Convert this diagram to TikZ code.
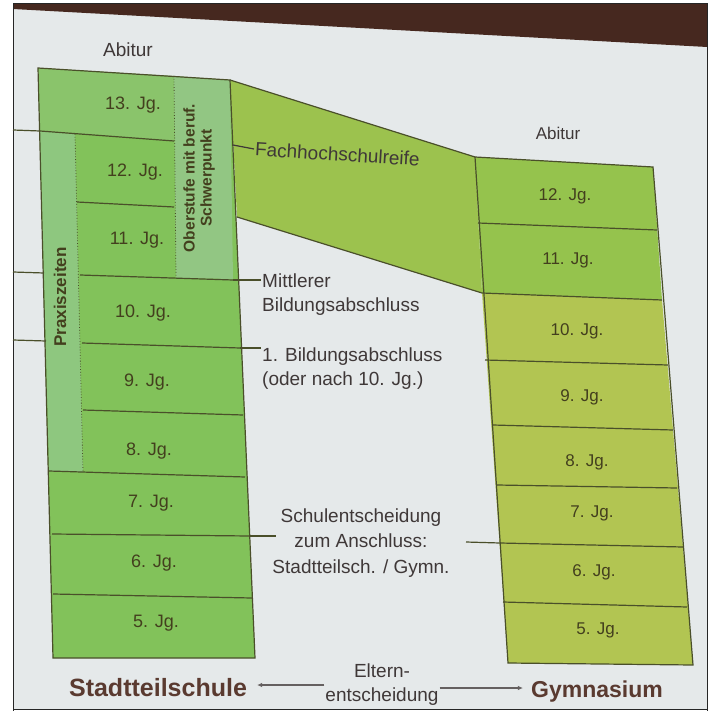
\documentclass[tikz,border=0pt]{standalone}
\usepackage{fontspec}
\setmainfont{Liberation Sans}
\usetikzlibrary{arrows.meta}
\definecolor{slide}{HTML}{E5E9EA}
\definecolor{topband}{HTML}{46281F}
\definecolor{mainG}{HTML}{82C25A}
\definecolor{rowG}{HTML}{8AC46B}
\definecolor{oberG}{HTML}{92C683}
\definecolor{praxG}{HTML}{8EC77F}
\definecolor{bandG}{HTML}{9CC24E}
\definecolor{rGreen}{HTML}{95C34D}
\definecolor{rYellow}{HTML}{B2C552}
\definecolor{lineC}{HTML}{4A4F2A}
\definecolor{jgText}{HTML}{433F1E}
\definecolor{labText}{HTML}{3F3838}
\definecolor{botText}{HTML}{5A3A30}
\tikzset{
  rowline/.style={draw=lineC, line width=1.2pt},
  dotline/.style={draw=lineC, line width=0.8pt, dotted},
  jgl/.style={text=jgText, font=\fontsize{18}{22}\selectfont, inner sep=1pt},
  jgr/.style={text=jgText, font=\fontsize{17}{21}\selectfont, inner sep=1pt},
  lab/.style={text=labText, font=\fontsize{19}{24}\selectfont, inner sep=1pt},
  vlab/.style={text=jgText, font=\bfseries\fontsize{15.5}{17}\selectfont, rotate=90, align=center, inner sep=1pt},
  botlab/.style={text=botText, font=\bfseries\fontsize{25}{30}\selectfont, inner sep=1pt},
  conn/.style={draw=labText!80, line width=1.2pt, -{Latex[length=5pt,width=4.5pt]}},
  frameline/.style={draw=black!85, line width=1pt}
}
\begin{document}
\begin{tikzpicture}[x=1pt,y=-1pt]
\useasboundingbox (0,0) rectangle (709,711);
% background and slide frame
\fill[white] (0,0) rectangle (709,711);
\fill[slide] (13,4) rectangle (707,709);
\fill[topband] (13,4) -- (707,4) -- (707,47) -- (13,9) -- cycle;
\draw[frameline] (13,711) -- (13,4) -- (707,4) -- (707,711);
\draw[frameline] (13,709) -- (707,709);

% Fachhochschulreife band
\fill[bandG] (230,80) -- (475,157) -- (482,293) -- (237,217) -- cycle;
\draw[rowline] (230,80) -- (475,157);
\draw[rowline] (237,217) -- (482,293);

% left column fills
\fill[mainG] (38,68) -- (230,80) -- (255,658) -- (53,658) -- cycle;
\fill[rowG] (38,68) -- (174,76) -- (174,141) -- (40,131) -- cycle;
\fill[oberG] (174,76) -- (230,80) -- (233,279) -- (176,278) -- cycle;
\fill[praxG] (40,131) -- (75,134) -- (83,472) -- (49,471) -- cycle;

% left column lines
\draw[rowline] (38,68) -- (230,80) -- (255,658) -- (53,658) -- cycle;
\draw[rowline] (13,130) -- (40,131) -- (174,141);
\draw[rowline] (77,202) -- (174,207);
\draw[rowline] (13,272) -- (44,273);
\draw[rowline] (80,275) -- (233,280);
\draw[rowline] (13,340) -- (46,341);
\draw[rowline] (82,343) -- (240,348);
\draw[rowline] (83,410) -- (243,415);
\draw[rowline] (49,471) -- (245,477);
\draw[rowline] (52,534) -- (250,536);
\draw[rowline] (53,594) -- (252,598);
\draw[dotline] (75,134) -- (83,472);
\draw[dotline] (174,76) -- (176,278);

% right column
\fill[rGreen] (475,157) -- (653,167) -- (662,300) -- (482,293) -- cycle;
\fill[rYellow] (482,293) -- (662,300) -- (693,665) -- (508,663) -- cycle;
\draw[rowline] (475,157) -- (653,167) -- (693,665) -- (508,663) -- cycle;
\draw[rowline] (478,223) -- (657,230);
\draw[rowline] (482,293) -- (662,300);
\draw[rowline] (485,360) -- (668,365);
\draw[rowline] (493,425) -- (673,430);
\draw[rowline] (497,485) -- (677,488);
\draw[rowline] (500,543) -- (683,547);
\draw[rowline] (503,602) -- (687,607);

% year labels, left
\node[jgl] (l13) at (133,105) {13. Jg.};
\node[jgl] (l12) at (135,172) {12. Jg.};
\node[jgl] (l11) at (137,240) {11. Jg.};
\node[jgl] (l10) at (143,313) {10. Jg.};
\node[jgl] (l9) at (147,382) {9. Jg.};
\node[jgl] (l8) at (149,451) {8. Jg.};
\node[jgl] (l7) at (151,503) {7. Jg.};
\node[jgl] (l6) at (154,563) {6. Jg.};
\node[jgl] (l5) at (156,623) {5. Jg.};
% year labels, right
\node[jgr] (r12) at (565,196) {12. Jg.};
\node[jgr] (r11) at (568,260) {11. Jg.};
\node[jgr] (r10) at (577,331) {10. Jg.};
\node[jgr] (r9) at (582,397) {9. Jg.};
\node[jgr] (r8) at (587,462) {8. Jg.};
\node[jgr] (r7) at (592,513) {7. Jg.};
\node[jgr] (r6) at (594,572) {6. Jg.};
\node[jgr] (r5) at (598,630) {5. Jg.};

% vertical labels
\node[vlab] (ober) at (199,178) {Oberstufe mit beruf.\\Schwerpunkt};
\node[vlab, font=\bfseries\fontsize{17}{20}\selectfont] (praxis) at (60,297) {Praxiszeiten};

% Abitur
\node[lab] (abl) at (128,50) {Abitur};
\node[lab, font=\fontsize{17}{20}\selectfont] (abr) at (558,133) {Abitur};

% side labels with dashes
\coordinate (cfhr) at (233,145);
\node[lab, anchor=west, rotate=-3.5] (fhr) at (254,149) {Fachhochschulreife};
\draw[rowline, draw=labText] (cfhr) -- (fhr.west);

\coordinate (c1110) at (233,280);
\node[lab, anchor=west, align=left] (mittl) at (261,295) {Mittlerer\\Bildungsabschluss};
\draw[rowline] (c1110) -- (c1110 -| mittl.west);

\coordinate (c109) at (240,348);
\node[lab, anchor=west, align=left] (erst) at (261,369) {1. Bildungsabschluss\\(oder nach 10. Jg.)};
\draw[rowline] (c109) -- (c109 -| erst.west);

\coordinate (c76l) at (250,536);
\coordinate (c76r) at (500,543);
\node[lab, align=center, font=\fontsize{19}{25.5}\selectfont] (schul) at (361,543) {Schulentscheidung\\zum Anschluss:\\Stadtteilsch. / Gymn.};
\draw[rowline] (c76l) -- ++(26,0);
\draw[rowline] (c76r) -- ++(-34,-1);

% bottom
\node[botlab] (stadt) at (158,688) {Stadtteilschule};
\node[botlab, font=\bfseries\fontsize{23}{28}\selectfont] (gym) at (597,692) {Gymnasium};
\node[lab, align=center, font=\fontsize{19}{24}\selectfont] (elt) at (382,685) {Eltern-\\entscheidung};
\draw[conn] ([yshift=0pt]elt.west) -- ([xshift=9pt]elt.west -| stadt.east);
\draw[conn] ([yshift=-3pt]elt.east) -- ([xshift=-7pt,yshift=-3pt]elt.east -| gym.west);
\end{tikzpicture}
\end{document}
